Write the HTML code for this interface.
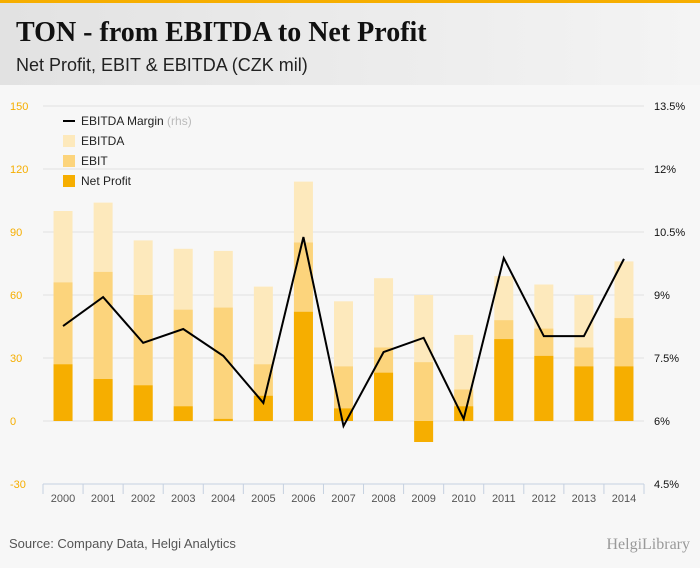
<!DOCTYPE html>
<html><head><meta charset="utf-8"><style>
body{margin:0;width:700px;height:568px;background:#f7f7f7;font-family:"Liberation Sans",sans-serif;overflow:hidden}
#top{position:absolute;left:0;top:0;width:700px;height:3px;background:#f6ae00}
#head{position:absolute;left:0;top:3px;width:700px;height:82px;background:linear-gradient(90deg,#e2e2e2,#f4f4f4)}
#title{position:absolute;left:16px;top:14px;font-family:"Liberation Serif",serif;font-weight:bold;font-size:28px;color:#111}
#sub{position:absolute;left:16px;top:52px;font-size:18px;color:#222}
svg{position:absolute;left:0;top:0}
</style></head><body>
<div id="top"></div>
<div id="head">
<div id="title">TON - from EBITDA to Net Profit</div>
<div id="sub">Net Profit, EBIT &amp; EBITDA (CZK mil)</div>
</div>
<svg id="c" width="700" height="568"></svg>
<script>
const categories=["2000","2001","2002","2003","2004","2005","2006","2007","2008","2009","2010","2011","2012","2013","2014"];
const ebitda=[100,104,86,82,81,64,114,57,68,60,41,69,65,60,76];
const ebit=[66,71,60,53,54,27,85,26,35,28,15,48,44,35,49];
const netProfit=[27,20,17,7,1,12,52,6,23,-10,7,39,31,26,26];
const margin=[8.26,8.95,7.86,8.19,7.55,6.43,10.38,5.88,7.64,7.98,6.05,9.88,8.02,8.02,9.86];
const leftTicks=[150,120,90,60,30,0,-30];
const rightTicks=[13.5,12,10.5,9,7.5,6,4.5];
const NS="http://www.w3.org/2000/svg";
const svg=document.getElementById('c');
const x0=43,x1=644,step=(x1-x0)/categories.length;
const yL=v=>421-(v)*2.1;
const yR=p=>421-(p-6)*42;
const xC=i=>x0+step*(i+0.5);
function mk(t,a,txt){const e=document.createElementNS(NS,t);for(const k in a)e.setAttribute(k,a[k]);if(txt!==undefined)e.textContent=txt;svg.appendChild(e);return e;}
leftTicks.forEach(v=>{
 if(v!==-30){const g=mk('line',{x1:x0,x2:x1,y1:yL(v),y2:yL(v),stroke:'#e0e0e0','stroke-width':1});
 
 }
 const t=mk('text',{x:10,y:yL(v)+4,'font-size':11,fill:'#f6ae00'},String(v));
 
 
});
rightTicks.forEach(p=>{
 const t=mk('text',{x:654,y:yR(p)+4,'font-size':11,fill:'#111'},p+'%');
 
 
});
const ax=mk('line',{x1:x0,x2:x1,y1:484,y2:484,stroke:'#c5d0e0'});


for(let i=0;i<=categories.length;i++){const l=mk('line',{x1:x0+step*i,x2:x0+step*i,y1:484,y2:494,stroke:'#c5d0e0'});

}
categories.forEach((c,i)=>{
 const bw=19,bx=xC(i)-bw/2;
 const b1=mk('rect',{x:bx,y:Math.min(yL(ebitda[i]),yL(0)),width:bw,height:Math.abs(yL(0)-yL(ebitda[i])),fill:'#fde9bc'});
 
 
 const b2=mk('rect',{x:bx,y:Math.min(yL(ebit[i]),yL(0)),width:bw,height:Math.abs(yL(0)-yL(ebit[i])),fill:'#fcd47c'});
 
 
 const b3=mk('rect',{x:bx,y:Math.min(yL(netProfit[i]),yL(0)),width:bw,height:Math.abs(yL(0)-yL(netProfit[i])),fill:'#f6ae00'});
 
 
 const t=mk('text',{x:xC(i),y:502,'font-size':11,fill:'#555','text-anchor':'middle'},c);
 
 
});
const ln=mk('polyline',{points:margin.map((p,i)=>xC(i)+','+yR(p)).join(' '),fill:'none',stroke:'#000','stroke-width':2});


const legend=[['line','#000','EBITDA Margin'],['rect','#fde9bc','EBITDA'],['rect','#fcd47c','EBIT'],['rect','#f6ae00','Net Profit']];
legend.forEach((L,k)=>{
 const y=121+k*20;
 if(L[0]==='line'){const m=mk('rect',{x:63,y:y-1,width:12,height:2,fill:'#000'});}
 else{const m=mk('rect',{x:63,y:y-6,width:12,height:12,fill:L[1]});}
 const t=mk('text',{x:81,y:y+4,'font-size':12,fill:'#222'},L[2]);
 
 
 if(k===0){const r=mk('tspan',{fill:'#bbb'},' (rhs)');t.appendChild(r);}
});
const s=mk('text',{x:9,y:548,'font-size':13,fill:'#555'},'Source: Company Data, Helgi Analytics');


const h=mk('text',{x:690,y:549,'font-size':16,fill:'#999','text-anchor':'end','font-family':'Liberation Serif,serif'},'HelgiLibrary');


</script>
</body></html>
